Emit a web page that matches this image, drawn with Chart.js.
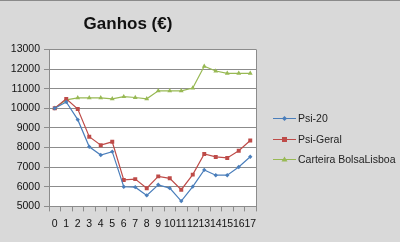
<!DOCTYPE html>
<html>
<head>
<meta charset="utf-8">
<script src="https://cdn.jsdelivr.net/npm/chart.js@4/dist/chart.umd.min.js"></script>
<style>
  html, body { margin: 0; padding: 0; background: #d9d9d9; }
  #wrap { position: relative; width: 400px; height: 242px; border-top: 1px solid #8a8a8a; box-sizing: border-box; }
</style>
</head>
<body>
<div id="wrap"><canvas id="ganhosChart"></canvas></div>
<script>
// Dados
const semanas = ['0','1','2','3','4','5','6','7','8','9','10','11','12','13','14','15','16','17'];
const psi20 = [10000, 10320, 9420, 8040, 7620, 7790, 6000, 5980, 5560, 6100, 5930, 5270, 6010, 6860, 6590, 6590, 7010, 7530];
const psiGeral = [10000, 10480, 9960, 8550, 8120, 8290, 6350, 6390, 5930, 6530, 6430, 5850, 6620, 7670, 7520, 7470, 7840, 8360];
const carteira = [10000, 10430, 10530, 10530, 10530, 10480, 10590, 10550, 10480, 10890, 10890, 10890, 11030, 12140, 11900, 11780, 11780, 11780];
const yTicks = [5000, 6000, 7000, 8000, 9000, 10000, 11000, 12000, 13000];

const FONT = 'Liberation Sans, Arial, sans-serif';

// white plot area with border + legend with line and marker
const plotAndLegend = {
    id: 'plotAndLegend',
    beforeDraw(chart) {
        const { ctx, chartArea: a } = chart;
        ctx.save();
        ctx.fillStyle = '#ffffff';
        ctx.fillRect(a.left, a.top, a.right - a.left, a.bottom - a.top);
        ctx.restore();
    },
    afterDraw(chart) {
        const { ctx, chartArea: a } = chart;
        ctx.save();
        ctx.strokeStyle = '#8c8c8c';
        ctx.lineWidth = 1;
        ctx.beginPath();
        ctx.moveTo(a.right + 0.5, a.top);
        ctx.lineTo(a.right + 0.5, a.bottom);
        ctx.stroke();

        // legend
        const ys = [117, 138, 158];
        chart.data.datasets.forEach((ds, i) => {
            const y = ys[i];
            ctx.strokeStyle = ds.borderColor;
            ctx.lineWidth = 1;
            ctx.beginPath();
            ctx.moveTo(273, y + 0.5);
            ctx.lineTo(296, y + 0.5);
            ctx.stroke();
            ctx.fillStyle = ds.pointBackgroundColor;
            const cx = 284.5, cy = y + 0.5;
            ctx.beginPath();
            if (ds.pointStyle === 'rectRot') {
                ctx.moveTo(cx, cy - 2.5); ctx.lineTo(cx + 2.5, cy); ctx.lineTo(cx, cy + 2.5); ctx.lineTo(cx - 2.5, cy);
            } else if (ds.pointStyle === 'rect') {
                ctx.rect(cx - 2.5, cy - 2.5, 5, 5);
            } else {
                ctx.moveTo(cx, cy - 3); ctx.lineTo(cx + 3, cy + 2); ctx.lineTo(cx - 3, cy + 2);
            }
            ctx.closePath();
            ctx.fill();
            ctx.fillStyle = '#222222';
            ctx.font = '10.5px ' + FONT;
            ctx.textBaseline = 'middle';
            ctx.textAlign = 'left';
            ctx.fillText(ds.label, 298, y + 1);
        });
        ctx.restore();
    }
};

const ctx = document.getElementById('ganhosChart').getContext('2d');
new Chart(ctx, {
    type: 'line',
    data: {
        labels: semanas,
        datasets: [{
            label: 'Psi-20',
            data: psi20,
            borderColor: '#4a7ebb',
            pointBackgroundColor: '#4a7ebb',
            pointBorderColor: '#4a7ebb',
            pointStyle: 'rectRot',
            pointRadius: 2.2
        }, {
            label: 'Psi-Geral',
            data: psiGeral,
            borderColor: '#be4b48',
            pointBackgroundColor: '#be4b48',
            pointBorderColor: '#be4b48',
            pointStyle: 'rect',
            pointRadius: 2.8
        }, {
            label: 'Carteira BolsaLisboa',
            data: carteira,
            borderColor: '#98b954',
            pointBackgroundColor: '#98b954',
            pointBorderColor: '#98b954',
            pointStyle: 'triangle',
            pointRadius: 2.8
        }]
    },
    options: {
        responsive: true,
        maintainAspectRatio: false,
        animation: false,
        devicePixelRatio: 1,
        elements: { line: { borderWidth: 1.2, tension: 0 }, point: { borderWidth: 0 } },
        layout: { padding: { left: 0, right: 144, top: 0, bottom: 6 } },
        plugins: {
            legend: { display: false },
            tooltip: { enabled: false },
            title: {
                display: true,
                text: 'Ganhos (€)',
                color: '#111111',
                font: { family: FONT, size: 17, weight: 'bold' },
                padding: { top: 13, bottom: 15 }
            }
        },
        scales: {
            x: {
                offset: true,
                grid: { offset: true, drawOnChartArea: false, drawTicks: true, tickLength: 5, color: '#8c8c8c' },
                border: { color: '#8c8c8c' },
                ticks: {
                    autoSkip: false, maxRotation: 0, minRotation: 0, padding: 6,
                    color: '#111111', font: { family: FONT, size: 10.5 }
                }
            },
            y: {
                min: 5000,
                max: 13000,
                afterBuildTicks(scale) { scale.ticks = yTicks.map(v => ({ value: v })); },
                afterFit(scale) { scale.width = 49; },
                grid: { color: '#8c8c8c', tickLength: 5, drawTicks: true },
                border: { color: '#8c8c8c' },
                ticks: {
                    padding: 4, color: '#111111', font: { family: FONT, size: 10.5 },
                    callback: v => String(v)
                }
            }
        }
    },
    plugins: [plotAndLegend]
});
</script>
</body>
</html>
